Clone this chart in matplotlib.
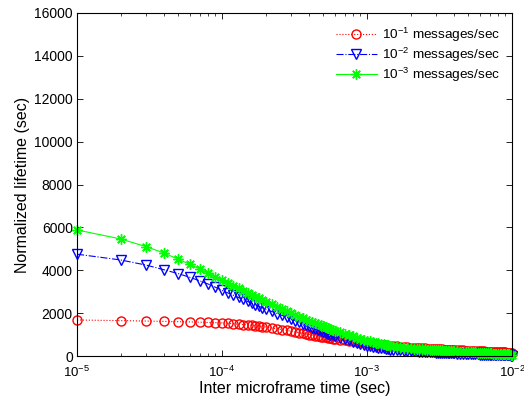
import numpy as np
import matplotlib
matplotlib.use("Agg")
import matplotlib.pyplot as plt
from matplotlib.ticker import LogLocator, FixedLocator

plt.rcParams['font.family'] = ['Liberation Sans', 'DejaVu Sans']
plt.rcParams['mathtext.default'] = 'regular'

# inter microframe time, in units of 1e-5 s
time_k = (list(range(1, 21)) + list(range(22, 61, 2)) + list(range(65, 151, 5))
          + list(range(160, 401, 10)) + list(range(420, 1001, 20)))
time_s = np.array(time_k) * 1e-5

life_rate1 = [1680, 1650, 1630, 1615, 1600, 1590, 1578, 1565, 1555, 1545,
              1523, 1502, 1483, 1466, 1450, 1430, 1411, 1393, 1376, 1360,
              1312, 1269, 1229, 1192, 1157, 1122, 1089, 1058, 1029, 1001,
              976, 951, 928, 906, 885, 864, 845, 826, 807, 790,
              759, 730, 703, 678, 654, 632, 610, 590, 575, 561, 548, 535, 522, 510, 499, 488, 477, 467,
              451, 436, 421, 407, 395, 386, 378, 370, 362, 354, 347, 340, 334, 327, 321,
              316, 311, 307, 303, 298, 294, 290, 286, 282, 278,
              271, 265, 259, 253, 248, 242, 237, 232, 227, 222, 217, 213, 208, 204, 200,
              196, 192, 189, 185, 181, 178, 175, 171, 168, 165, 162, 159, 156, 153, 150]

life_rate2 = [4750, 4480, 4240, 4020, 3840, 3670, 3510, 3360, 3210, 3060,
              2940, 2830, 2730, 2636, 2549, 2468, 2392, 2320, 2251, 2187,
              2079, 1981, 1891, 1807, 1729, 1651, 1577, 1507, 1441, 1379,
              1324, 1271, 1221, 1173, 1127, 1083, 1040, 999, 960, 921,
              852, 787, 727, 671, 619, 569, 522, 477, 454, 431, 410, 390, 370, 352, 334, 316, 299, 283,
              270, 259, 247, 237, 227, 219, 211, 204, 197, 190, 184, 177, 171, 166, 160,
              155, 151, 147, 143, 139, 135, 131, 127, 124, 120,
              113, 107, 101, 95, 90, 85, 81, 77, 73, 69, 65, 61, 57, 54, 51,
              49, 46, 44, 42, 39, 37, 35, 33, 31, 29, 27, 25, 24, 22, 20]

life_rate3 = [5880, 5460, 5100, 4800, 4510, 4280, 4060, 3860, 3680, 3530,
              3393, 3269, 3154, 3048, 2949, 2856, 2770, 2688, 2610, 2537,
              2409, 2291, 2184, 2084, 1991, 1910, 1833, 1761, 1693, 1628,
              1574, 1522, 1473, 1426, 1381, 1338, 1296, 1255, 1217, 1179,
              1106, 1039, 976, 917, 861, 809, 760, 713, 683, 655, 628, 602, 577, 554, 531, 508, 487, 466,
              441, 417, 395, 374, 354, 344, 335, 327, 318, 310, 303, 295, 288, 281, 275,
              269, 264, 258, 253, 248, 243, 239, 234, 229, 225,
              217, 208, 201, 193, 186, 179, 172, 165, 159, 153, 147, 141, 135, 130, 125,
              120, 116, 111, 107, 103, 99, 95, 91, 87, 84, 80, 76, 73, 69, 66]

labels = ['$10^{-1}$ messages/sec', '$10^{-2}$ messages/sec', '$10^{-3}$ messages/sec']
y_ticks = [0, 2000, 4000, 6000, 8000, 10000, 12000, 14000, 16000]

fig = plt.figure(figsize=(5.24, 4.04), dpi=100)
ax = fig.add_axes([77/524, 1-356/404, (512-77)/524, (356-13)/404])

ax.plot(time_s, life_rate1, linestyle=':', color='#ff0000', lw=0.8, marker='o',
        ms=6.5, mfc='none', mec='#ff0000', mew=1.0, clip_on=False, label=labels[0])
ax.plot(time_s, life_rate2, linestyle='-.', color='#0000ff', lw=0.8, marker='v',
        ms=7, mfc='none', mec='#0000ff', mew=1.0, clip_on=False, label=labels[1])
ax.plot(time_s, life_rate3, linestyle='-', color='#00ff00', lw=0.8, marker=(8, 2, 0),
        ms=7.5, mfc='none', mec='#00ff00', mew=1.0, clip_on=False, label=labels[2])

ax.set_xscale('log')
ax.set_xlim(1e-5, 1e-2)
ax.set_ylim(0, 16000)
ax.yaxis.set_major_locator(FixedLocator(y_ticks))
ax.xaxis.set_major_locator(LogLocator(base=10, numticks=10))
ax.xaxis.set_minor_locator(LogLocator(base=10, subs=np.arange(2, 10), numticks=20))

ax.tick_params(which='both', direction='in', top=True, right=True)
ax.tick_params(axis='y', labelsize=10, pad=3)
ax.tick_params(axis='x', labelsize=9.5, pad=6)
ax.tick_params(which='major', length=4, width=0.6)
ax.tick_params(which='minor', length=2.5, width=0.5)
for s in ax.spines.values():
    s.set_linewidth(0.8)

ax.set_xlabel('Inter microframe time (sec)', fontsize=11.5, labelpad=1)
ax.set_ylabel('Normalized lifetime (sec)', fontsize=11.5, labelpad=3)

ax.legend(loc='upper right', bbox_to_anchor=(423/435, 0.963), frameon=False,
          fontsize=9.7, handlelength=3.0, labelspacing=0.13, borderpad=0,
          borderaxespad=0, handletextpad=0.4, numpoints=1)

fig.savefig('out.png', dpi=100)
